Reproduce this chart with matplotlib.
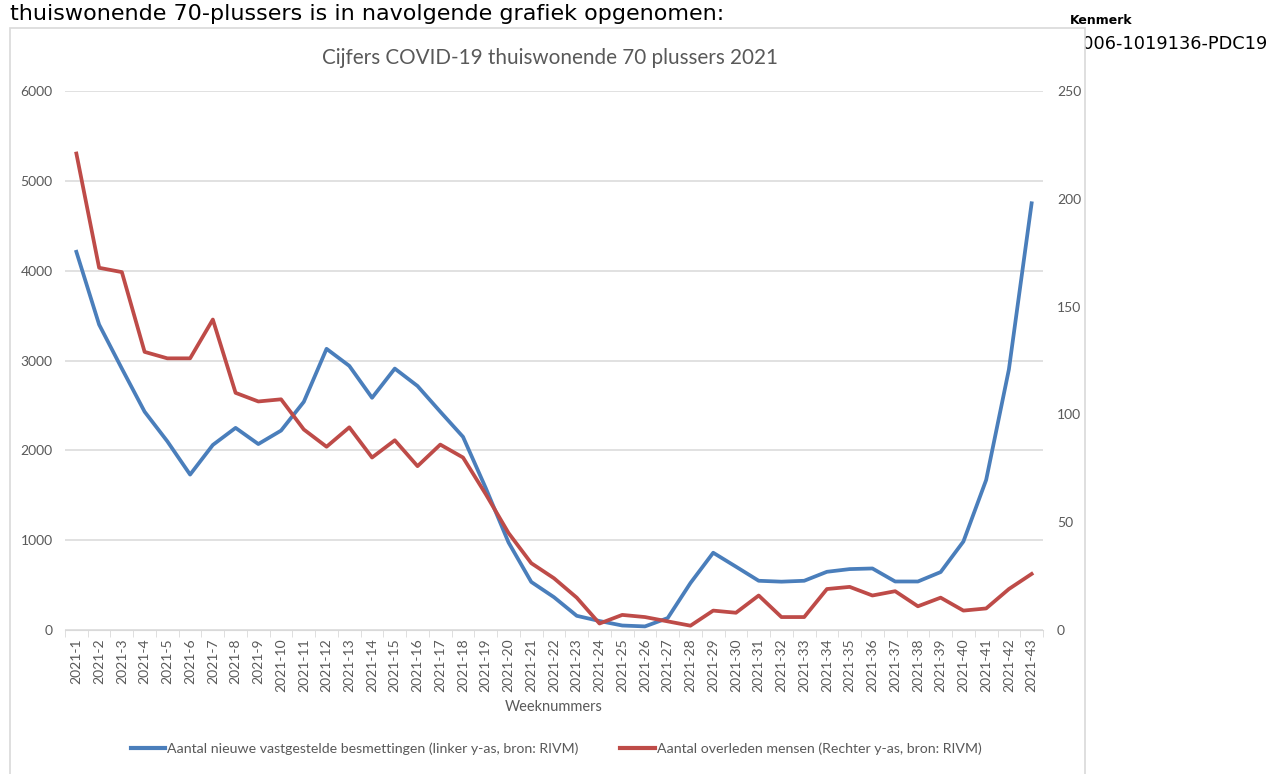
import numpy as np
import matplotlib
matplotlib.use("Agg")
import matplotlib.pyplot as plt
from matplotlib.patches import Rectangle

# Weeknummers 2021
weeks = [f"2021-{i}" for i in range(1, 44)]

# Aantal nieuwe vastgestelde besmettingen (linker y-as)
besmettingen = [4210, 3400, 2910, 2430, 2100, 1730, 2060, 2250, 2070, 2220,
                2540, 3130, 2940, 2585, 2910, 2716, 2430, 2150, 1580, 975,
                535, 365, 158, 100, 50, 40, 133, 523, 860, 705,
                548, 538, 548, 648, 678, 685, 540, 540, 645, 985,
                1670, 2900, 4750]

# Aantal overleden mensen (rechter y-as)
overleden = [221, 168, 166, 129, 126, 126, 144, 110, 106, 107,
             93, 85, 94, 80, 88, 76, 86, 80, 63, 45,
             31, 24, 15, 3, 7, 6, 4, 2, 9, 8,
             16, 6, 6, 19, 20, 16, 18, 11, 15, 9,
             10, 19, 26]

W, H = 1273, 774
blauw = "#4A7EBB"
rood = "#BE4B48"
grijs = "#595959"
lijn = "#D9D9D9"

fig = plt.figure(figsize=(W / 100, H / 100), dpi=100)
fig.patch.set_facecolor("white")

# document tekst rondom de grafiek
fig.text(10 / W, 1 - 14 / H, "thuiswonende 70-plussers is in navolgende grafiek opgenomen:",
         fontsize=16, family="DejaVu Sans", va="center", ha="left", color="black")
fig.text(1070 / W, 1 - 20 / H, "Kenmerk", fontsize=9, fontweight="bold",
         family="DejaVu Sans", va="center", ha="left", zorder=0.5)
fig.text(1268 / W, 1 - 44 / H, "2006-1019136-PDC19", fontsize=12.8,
         family="DejaVu Sans", va="center", ha="right", zorder=0.5)

# kader van de grafiek
fig.patches.append(Rectangle((10 / W, -0.01), 1075 / W, 1 - 28 / H + 0.01,
                             transform=fig.transFigure, facecolor="white",
                             edgecolor=lijn, linewidth=1.2, zorder=1))

ax = fig.add_axes([65 / W, 1 - 630 / H, (1043 - 65) / W, (630 - 91) / H])
ax.set_zorder(2)
ax.patch.set_visible(False)
x = np.arange(len(weeks))
l1, = ax.plot(x, besmettingen, color=blauw, lw=2.7, solid_joinstyle="round",
              label="Aantal nieuwe vastgestelde besmettingen (linker y-as, bron: RIVM)")
ax.set_ylim(0, 6000)
ax.set_yticks(range(0, 6001, 1000))
ax.set_xlim(-0.5, len(weeks) - 0.5)
ax.grid(axis="y", color=lijn, lw=1.1)
ax.set_axisbelow(True)
ax.set_xticks(x)
ax.set_xticklabels(weeks, rotation=90, fontsize=10, color=grijs, family="Lato")
ax.set_xticks(np.arange(-0.5, len(weeks)), minor=True)
ax.tick_params(axis="x", which="major", length=0, pad=6)
ax.tick_params(axis="x", which="minor", length=5, color=lijn)
ax.tick_params(axis="y", length=0, pad=9, labelsize=10, labelcolor=grijs)
for lab in ax.get_yticklabels():
    lab.set_family("Lato")
for s in ["top", "left", "right"]:
    ax.spines[s].set_visible(False)
ax.spines["bottom"].set_color(lijn)
ax.set_xlabel("Weeknummers", fontsize=10.5, color=grijs, family="Lato", labelpad=6)

ax2 = ax.twinx()
ax2.set_zorder(3)
ax2.patch.set_visible(False)
l2, = ax2.plot(x, overleden, color=rood, lw=2.7, solid_joinstyle="round",
               label="Aantal overleden mensen (Rechter y-as, bron: RIVM)")
ax2.set_ylim(0, 250)
ax2.set_yticks(range(0, 251, 50))
ax2.tick_params(axis="y", length=0, pad=10, labelsize=10, labelcolor=grijs)
for lab in ax2.get_yticklabels():
    lab.set_family("Lato")
for s in ["top", "left", "right", "bottom"]:
    ax2.spines[s].set_visible(False)

fig.text(550 / W, 1 - 58 / H, "Cijfers COVID-19 thuiswonende 70 plussers 2021",
         fontsize=14.9, color=grijs, family="Lato", ha="center", va="center", zorder=4)

leg = fig.legend(handles=[l1, l2], loc="center", bbox_to_anchor=(556 / W, 1 - 749 / H),
                 ncol=2, frameon=False, handlelength=2.45, handletextpad=0.15,
                 columnspacing=2.9, prop={"family": "Lato", "size": 10.2})
for t in leg.get_texts():
    t.set_color(grijs)
for h in leg.legend_handles:
    h.set_linewidth(3)

fig.savefig("out.png", dpi=100)
